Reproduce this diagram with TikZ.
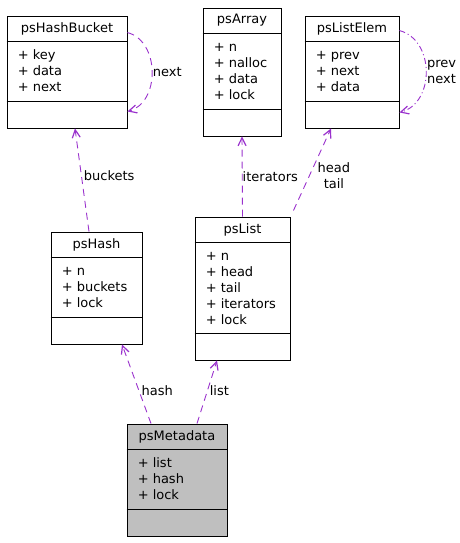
\documentclass[tikz,border=0pt]{standalone}
\usepackage{fontspec}
\setmainfont{DejaVu Sans}
\usepackage{tikz}
\usetikzlibrary{arrows.meta,fit,positioning}
\definecolor{edgepurple}{HTML}{9A32CD}
\definecolor{metagray}{HTML}{BFBFBF}

% class box: style, name, left, top, right, bottom, title, attributes
\newcommand{\umlclass}[8]{%
  \node[cls,#1,fit={(#3,#4) (#5,#6)}] (#2) {};
  \draw ([yshift=-26pt]#2.north west) -- ([yshift=-26pt]#2.north east);
  \draw ([yshift=27pt]#2.south west) -- ([yshift=27pt]#2.south east);
  \node[inner sep=0pt] (#2-title) at ([yshift=-13pt]#2.north) {#7};
  \node[attr] (#2-attrs) at ([shift={(11pt,-34pt)}]#2.north west) {\vphantom{Hk}#8};
}

\begin{document}
\begin{tikzpicture}[x=1pt,y=-1pt,font=\fontsize{13}{16}\selectfont,
  cls/.style={draw,inner sep=0pt,line width=0.9pt},
  attr/.style={anchor=north west,inner sep=0pt,align=left},
  uses/.style={draw=edgepurple,line width=0.9pt,dash pattern=on 7pt off 5pt,
    -{Straight Barb[length=8pt,width=8pt,line width=1.2pt]}},
  lbl/.style={inner sep=2pt}]
  \useasboundingbox (0,0) rectangle (460,543);
  \umlclass{}{bucket}{7}{16}{127}{128}{psHashBucket}{+ key\\+ data\\+ next}
  \umlclass{}{arr}{203}{8}{281}{136}{psArray}{+ n\\+ nalloc\\+ data\\+ lock}
  \umlclass{}{elem}{305}{16}{399}{128}{psListElem}{+ prev\\+ next\\+ data}
  \umlclass{}{hash}{51}{232}{142}{344}{psHash}{+ n\\+ buckets\\+ lock}
  \umlclass{}{plist}{195}{217}{290}{360}{psList}{+ n\\+ head\\+ tail\\+ iterators\\+ lock}
  \umlclass{fill=metagray}{meta}{127}{424}{227}{536}{psMetadata}{+ list\\+ hash\\+ lock}
  % self references
  \draw[uses] ([yshift=-17pt]bucket.north east) to[out=-15,in=15,looseness=1.1]
    node[inner sep=0.5pt,right] (bucket-next) {next} ([yshift=17pt]bucket.south east);
  \draw[uses,dash pattern=on 6pt off 3pt on 1pt off 3pt] ([yshift=-15pt]elem.north east)
    to[out=-15,in=15,looseness=1.15]
    node[inner sep=0.5pt,right,align=center] (elem-next) {prev\\next} ([yshift=16pt]elem.south east);
  % members
  \draw[uses] ([xshift=-7.5pt]hash.north) -- node[lbl,pos=0.54,right] {buckets} ([xshift=8pt]bucket.south);
  \draw[uses] (plist.north) -- node[pos=0.5,right,inner sep=0pt] {iterators} (arr.south);
  \draw[uses] ([shift={(3pt,6pt)}]plist.north east) --
    node[pos=0.42,right,align=center,inner sep=8pt] {head\\tail} ([xshift=-21pt]elem.south);
  \draw[uses] ([xshift=-26pt]meta.north) -- node[lbl,pos=0.41,right] {hash} ([xshift=25.5pt]hash.south);
  \draw[uses] ([xshift=20pt]meta.north) -- node[lbl,pos=0.52,right] {list} ([xshift=-25.5pt]plist.south);
\end{tikzpicture}
\end{document}
